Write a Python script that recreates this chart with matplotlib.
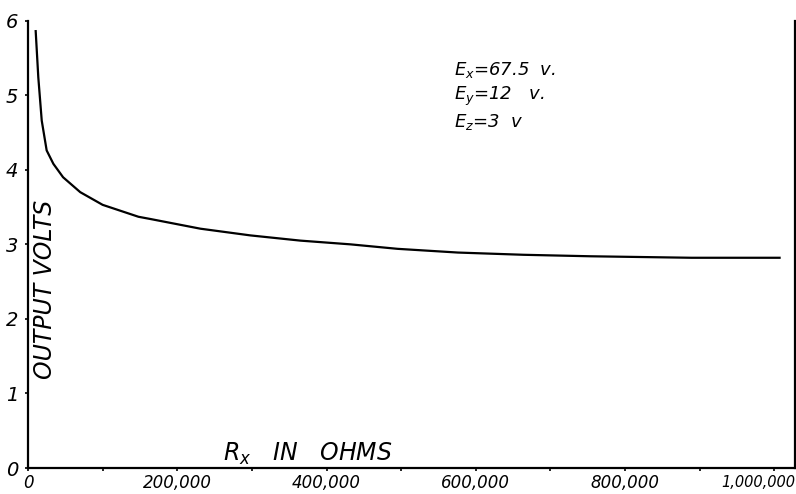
import numpy as np
import matplotlib
matplotlib.use("Agg")
from matplotlib import pyplot as plt

# curve: Rx (ohms) vs output volts
rx = [10300, 13800, 18400, 25000, 34000, 47000, 70000, 100000, 148000,
      164000, 231000, 298000, 365000, 432000, 495000, 576000, 664000,
      754000, 889000, 1007000]
volts = [5.86, 5.24, 4.66, 4.26, 4.08, 3.90, 3.70, 3.53, 3.37,
         3.34, 3.21, 3.12, 3.05, 3.00, 2.94, 2.89, 2.86,
         2.84, 2.82, 2.82]

xticks = [0, 200000, 400000, 600000, 800000, 1000000]
xticklabels = ["0", "200,000", "400,000", "600,000", "800,000", "1,000,000"]
yticks = [0, 1, 2, 3, 4, 5, 6]

fig = plt.figure(figsize=(7.96, 4.94), dpi=100)
ax = fig.add_axes([28/796, 1-468/494, (794.5-28)/796, (468-20.7)/494])

ax.plot(rx, volts, color="black", lw=1.6)

ax.set_xlim(0, 1027000)
ax.set_ylim(0, 6)
ax.spines["top"].set_visible(False)
for s in ["left", "bottom", "right"]:
    ax.spines[s].set_linewidth(1.6)

minor = np.arange(0, 1000001, 100000)
ax.set_xticks(minor)
# the last label is squeezed against the right edge in the drawing,
# so it gets placed by hand below
ax.set_xticklabels(["" if (v not in xticks or v == xticks[-1])
                    else xticklabels[xticks.index(v)] for v in minor],
                   fontsize=12, style="italic")
ax.annotate(xticklabels[-1], xy=(xticks[-1], 0), xycoords=("data", "axes fraction"),
            xytext=(-16, -7), textcoords="offset pixels", ha="center", va="top",
            fontsize=10.5, style="italic", annotation_clip=False)

ax.set_yticks(yticks)
ax.set_yticklabels([str(v) for v in yticks], fontsize=14, style="italic")
ax.tick_params(axis="both", direction="out", length=2, width=1.2, pad=2)
ax.tick_params(axis="y", pad=5)

ax.text(0.022, 0.40, "OUTPUT VOLTS", transform=ax.transAxes, rotation=90,
        ha="center", va="center", fontsize=17, style="italic")
ax.text(0.255, 0.015, r"$R_x$   IN   OHMS", transform=ax.transAxes,
        ha="left", va="baseline", fontsize=17, style="italic")

ax.text(0.556, 0.890, r"$E_x$=67.5  v.", transform=ax.transAxes,
        fontsize=13, style="italic", va="center")
ax.text(0.556, 0.830, r"$E_y$=12   v.", transform=ax.transAxes,
        fontsize=13, style="italic", va="center")
ax.text(0.556, 0.774, r"$E_z$=3  v", transform=ax.transAxes,
        fontsize=13, style="italic", va="center")

plt.savefig("out.png", dpi=100)
